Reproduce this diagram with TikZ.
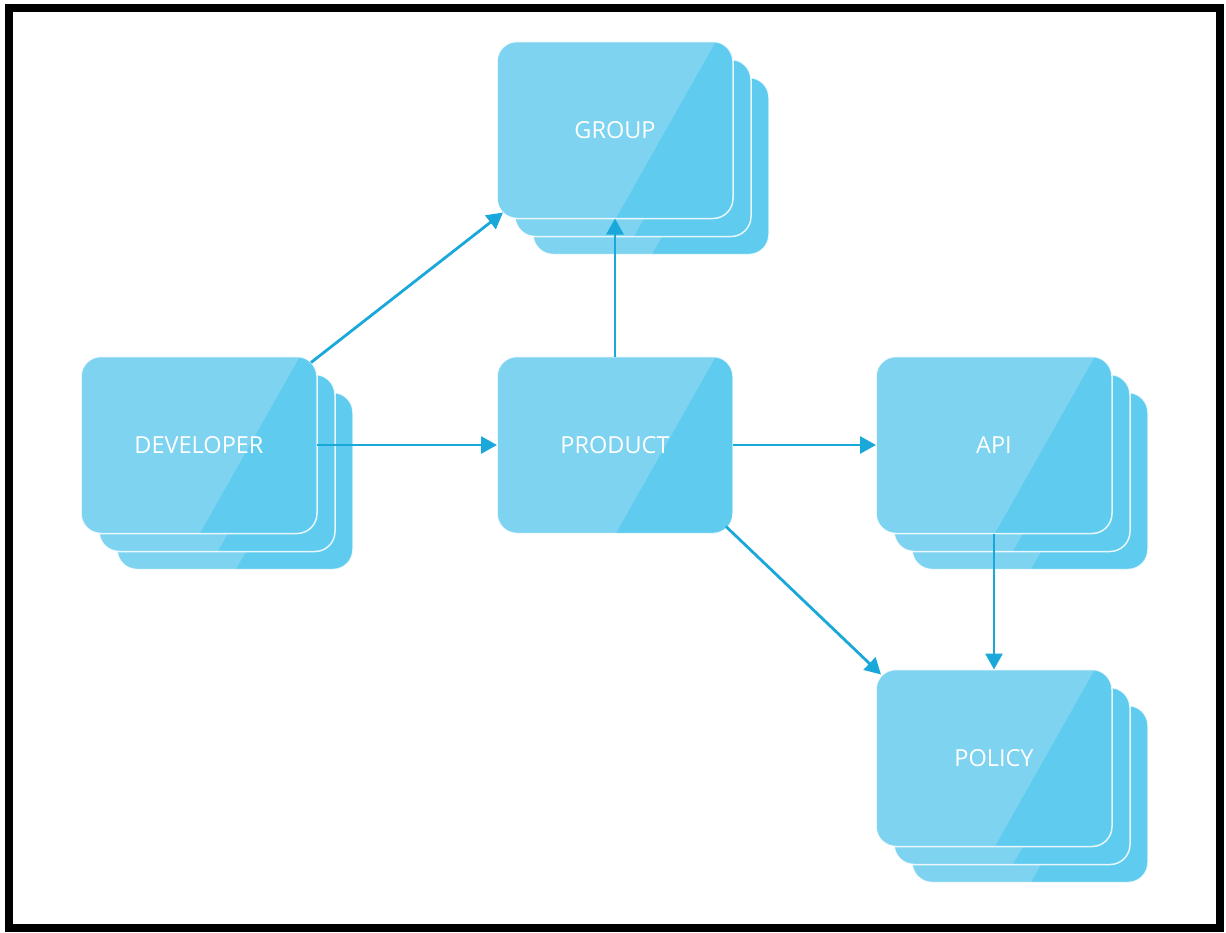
\documentclass[tikz,border=0pt]{standalone}
\usepackage{fontspec}
\setmainfont{Open Sans}
\usetikzlibrary{arrows.meta}
\definecolor{cardlight}{HTML}{7DD3F0}
\definecolor{carddark}{HTML}{5ECBEF}
\definecolor{arrowblue}{HTML}{1AA8DA}
\tikzset{
  card/.style={rectangle, rounded corners=20pt, minimum width=236pt, minimum height=177pt,
    inner sep=0pt, outer sep=0pt, fill=cardlight, draw=white, draw opacity=0.85, line width=1.5pt,
    text=white, font=\fontsize{23.5}{28}\selectfont,
    path picture={\fill[carddark, sharp corners] ([xshift=219pt]path picture bounding box.north west) --
      ([xshift=20pt]path picture bounding box.north east) -- ([xshift=20pt]path picture bounding box.south east) --
      ([xshift=119pt]path picture bounding box.south west) -- cycle;}},
  link/.style={draw=arrowblue, line width=2.8pt, -{Triangle[length=16pt,width=17pt]}}
}
\begin{document}
\begin{tikzpicture}[x=1pt,y=-1pt]
\useasboundingbox (0,0) rectangle (1226,932);
\fill[white] (0,0) rectangle (1226,932);
% GROUP stack
\node[card] (group3) at (651,166) {};
\node[card] (group2) at (633,148) {};
\node[card] (group) at (615,130) {GROUP};
% DEVELOPER stack
\node[card] (dev3) at (235,481) {};
\node[card] (dev2) at (217,463) {};
\node[card] (dev) at (199,445) {DEVELOPER};
% PRODUCT
\node[card] (prod) at (615,445) {PRODUCT};
% API stack
\node[card] (api3) at (1030,481) {};
\node[card] (api2) at (1012,463) {};
\node[card] (api) at (994,445) {API};
% POLICY stack
\node[card] (policy3) at (1030,794) {};
\node[card] (policy2) at (1012,776) {};
\node[card] (policy) at (994,758) {POLICY};
% connectors
\draw[link] ([shift={(-6,6)}]dev.north east) -- ([shift={(6,-6)}]group.south west);
\draw[link] (dev.east) -- (prod.west);
\draw[link] (prod.north) -- (group.south);
\draw[link] (prod.east) -- (api.west);
\draw[link] ([shift={(-7,-7)}]prod.south east) -- ([shift={(5,5)}]policy.north west);
\draw[link] (api.south) -- (policy.north);
% frame
\draw[line width=8pt] (9,8) rectangle (1220,928);
\end{tikzpicture}
\end{document}
